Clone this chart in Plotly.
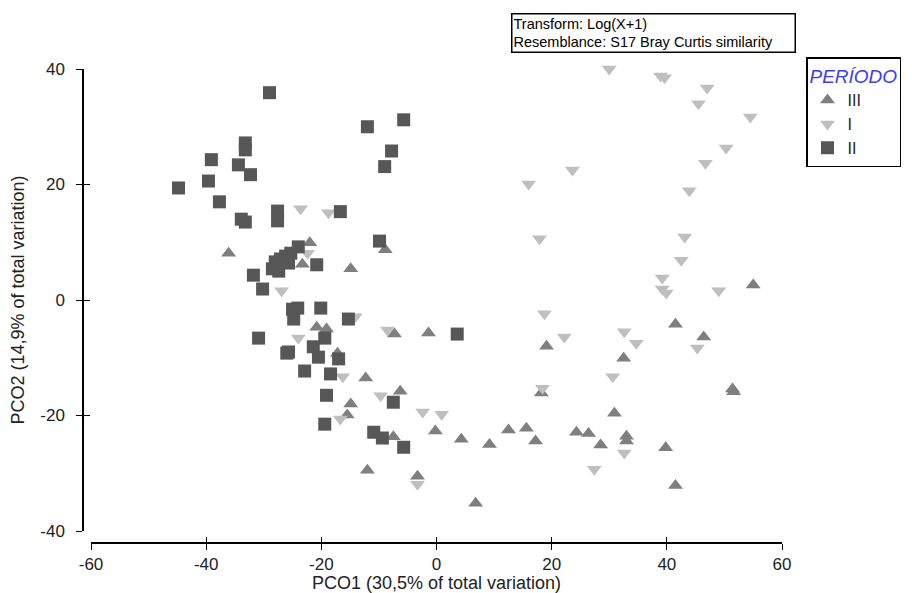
import plotly.graph_objects as go

# ---- data (PCO1, PCO2) per PERIODO ----
iii_x = [-36.1, -22.0, -23.3, -8.9, -14.9, -20.8, -19.1, -7.3, -1.4, -17.2, -12.3, -6.3, -14.9, -15.5,
         -7.5, -0.2, 4.3, 9.2, 12.5, 15.6, 17.2, -12.0, -3.3, 6.8, 19.1, 18.2, 30.9, 24.3, 26.4, 28.5,
         33.0, 33.0, 39.8, 41.5, 32.5, 41.5, 46.4, 51.4, 51.6, 55.0]
iii_y = [8.1, 9.9, 6.2, 8.7, 5.4, -4.7, -5.0, -5.9, -5.7, -9.2, -13.5, -15.8, -18.0, -19.9,
         -23.7, -22.7, -24.1, -25.0, -22.5, -22.2, -24.4, -29.5, -30.5, -35.2, -8.0, -16.1, -19.6, -22.9, -23.1, -25.1,
         -23.6, -24.4, -25.6, -32.1, -10.1, -4.2, -6.4, -15.4, -15.9, 2.6]

i_x = [-23.6, -18.75, -22.4, -26.9, -24.0, -14.1, -8.5, -16.3, -9.7, -16.7, -2.4, 0.9, -3.3,
       16.0, 23.6, 17.9, 18.75, 22.2, 18.4, 32.6, 34.7, 45.3, 30.6, 32.6, 27.4,
       30.0, 38.9, 39.6, 47.0, 45.5, 54.5, 50.3, 46.7, 43.9, 43.1, 42.5, 39.2, 39.2, 39.9, 49.0]
i_y = [15.8, 15.1, 8.1, 1.6, -6.6, -2.9, -5.2, -13.3, -16.6, -20.6, -19.4, -19.8, -31.9,
       20.1, 22.5, 10.6, -2.4, -6.4, -15.3, -5.5, -7.5, -8.3, -13.3, -26.5, -29.3,
       40.0, 38.8, 38.5, 36.7, 34.0, 31.7, 26.3, 23.7, 18.9, 10.9, 6.9, 3.8, 1.9, 1.2, 1.6]

ii_x = [-44.8, -39.6, -39.1, -37.7, -34.4, -33.2, -33.2, -32.3, -33.9, -33.2, -29.0, -27.6, -27.6,
        -16.7, -12.0, -5.7, -7.8, -9.0, -9.9, 3.6, -31.8, -30.2, -28.5, -28.0, -27.1, -26.2, -25.3,
        -24.0, -27.4, -25.7, -20.8, -25.0, -24.1, -24.8, -20.1, -15.3, -30.9, -25.7, -26.0, -21.4,
        -20.5, -19.4, -17.0, -22.9, -18.4, -19.1, -19.4, -7.5, -10.9, -9.4, -5.7]
ii_y = [19.4, 20.6, 24.3, 17.0, 23.4, 27.2, 26.0, 21.7, 14.0, 13.5, 35.9, 15.4, 13.7,
        15.3, 30.0, 31.2, 25.8, 23.1, 10.2, -5.9, 4.3, 1.9, 5.4, 6.6, 7.1, 7.6, 8.1,
        9.2, 5.0, 6.4, 6.1, -1.6, -1.4, -3.3, -1.4, -3.3, -6.6, -9.0, -9.2, -8.1,
        -9.9, -6.6, -10.2, -12.3, -12.8, -16.5, -21.5, -17.7, -22.9, -23.9, -25.5]

tick_vals_x = [-60, -40, -20, 0, 20, 40, 60]
tick_text_x = ["-60", "-40", "-20", "0", "20", "40", "60"]
tick_vals_y = [-40, -20, 0, 20, 40]
tick_text_y = ["-40", "-20", "0", "20", "40"]

W, H = 912, 593
ML, MR, MT, MB = 83, 130, 69, 50
PW, PH = W - ML - MR, H - MT - MB
xdom0 = (91 - ML) / PW
ydom0 = (543 - 531) / PH

FONT = "Liberation Sans, Arial, sans-serif"

fig = go.Figure()
fig.add_trace(go.Scatter(x=iii_x, y=iii_y, mode="markers", name="III", legendgroup="III", cliponaxis=False,
                         marker=dict(symbol="triangle-up", size=13, color="#7f7f7f", line=dict(width=0))))
fig.add_trace(go.Scatter(x=i_x, y=i_y, mode="markers", name="I", legendgroup="I", cliponaxis=False,
                         marker=dict(symbol="triangle-down", size=13, color="#bfbfbf", line=dict(width=0))))
fig.add_trace(go.Scatter(x=ii_x, y=ii_y, mode="markers", name="II", legendgroup="II", cliponaxis=False,
                         marker=dict(symbol="square", size=13, color="#575757", line=dict(width=0))))
# invisible trace for the overlay axes (inside half of the crossing ticks)
fig.add_trace(go.Scatter(x=[None], y=[None], xaxis="x2", yaxis="y2", showlegend=False,
                         hoverinfo="skip", mode="markers"))

axis_common = dict(showgrid=False, zeroline=False, showline=True, linecolor="black", linewidth=1.5,
                   ticks="outside", ticklen=6, tickwidth=1.3, tickcolor="black",
                   tickfont=dict(family=FONT, size=17, color="#222"))

fig.update_layout(
    width=W, height=H,
    margin=dict(l=ML, r=MR, t=MT, b=MB, autoexpand=False),
    paper_bgcolor="white", plot_bgcolor="white",
    font=dict(family=FONT, color="#222"),
    xaxis=dict(**axis_common, domain=[xdom0, 1], range=[-60, 60], anchor="free", position=0,
               tickvals=tick_vals_x, ticktext=tick_text_x,
               title=dict(text="PCO1 (30,5% of total variation)", font=dict(family=FONT, size=18, color="#222"),
                          standoff=2)),
    yaxis=dict(**axis_common, domain=[ydom0, 1], range=[-40, 40], anchor="free", position=0,
               tickvals=tick_vals_y, ticktext=tick_text_y, ticklabelstandoff=8,
               title=dict(text="PCO2 (14,9% of total variation)", font=dict(family=FONT, size=18, color="#222"),
                          standoff=10)),
    xaxis2=dict(domain=[xdom0, 1], range=[-60, 60], anchor="free", position=0, overlaying="x",
                showgrid=False, zeroline=False, showline=False, showticklabels=False,
                ticks="inside", ticklen=6, tickwidth=1.3, tickcolor="black", tickvals=tick_vals_x),
    yaxis2=dict(domain=[ydom0, 1], range=[-40, 40], anchor="free", position=0, overlaying="y",
                showgrid=False, zeroline=False, showline=False, showticklabels=False,
                ticks="inside", ticklen=6, tickwidth=1.3, tickcolor="black", tickvals=tick_vals_y),
    legend=dict(
        x=(806 - ML) / PW, y=(543 - 57) / PH, xanchor="left", yanchor="top",
        bgcolor="white", bordercolor="black", borderwidth=1.5,
        font=dict(family=FONT, size=16, color="#222"),
        title=dict(text="PERÍODO", font=dict(family=FONT, size=19, color="#3c3cff", style="italic")),
        tracegroupgap=0, itemwidth=30,
    ),
    showlegend=True,
    annotations=[dict(
        xref="paper", yref="paper", x=(511 - ML) / PW, y=(543 - 13) / PH,
        xanchor="left", yanchor="top", align="left", showarrow=False,
        text="Transform: Log(X+1)<br>Resemblance: S17 Bray Curtis similarity",
        font=dict(family=FONT, size=14.5, color="black"),
        bordercolor="black", borderwidth=1.5, borderpad=1, bgcolor="white", width=280,
    )],
)

fig.write_html("out.html")
